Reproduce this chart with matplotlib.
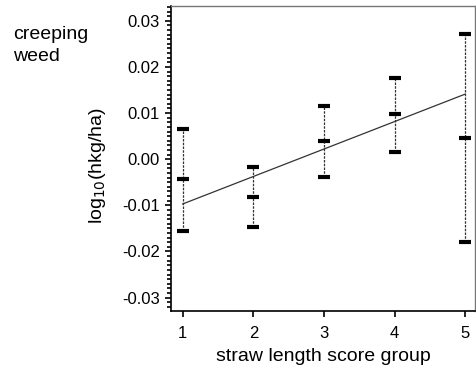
import matplotlib.pyplot as plt
from matplotlib.ticker import MultipleLocator

plt.rcParams['font.family'] = ['Liberation Sans', 'DejaVu Sans']

groups = [1, 2, 3, 4, 5]
upper = [0.0066, -0.0016, 0.0116, 0.0177, 0.0271]
mean = [-0.0044, -0.0081, 0.0040, 0.0097, 0.0045]
lower = [-0.0155, -0.0147, -0.0038, 0.0016, -0.0179]
fit_x = [1, 5]
fit_y = [-0.0097, 0.0141]


def main():
    fig = plt.figure(figsize=(4.76, 3.68), dpi=100)
    ax = fig.add_axes([171 / 476, 57 / 368, 304 / 476, 305 / 368])

    ax.vlines(groups, lower, upper, colors='#333333', linestyles=(0, (2, 1)), linewidth=0.9)
    ax.plot(fit_x, fit_y, color='#333333', linewidth=0.9)
    for vals in (upper, mean, lower):
        ax.plot(groups, vals, linestyle='none', marker='_', markersize=8,
                markeredgewidth=3, color='black')

    ax.set_xlim(0.834, 5.14)
    ax.set_ylim(-0.0329, 0.0332)
    ax.set_xticks(groups)
    ax.yaxis.set_major_locator(MultipleLocator(0.01))
    ax.yaxis.set_minor_locator(MultipleLocator(0.001))
    ax.set_yticklabels(['%.2f' % t for t in ax.get_yticks()])
    ax.tick_params(axis='both', which='major', direction='out', length=4, width=1.2,
                   labelsize=12, pad=4)
    ax.tick_params(axis='x', which='major', pad=7)
    ax.tick_params(axis='y', which='minor', direction='out', length=3, width=1.2)

    for side in ('top', 'right'):
        ax.spines[side].set_color('#777777')
        ax.spines[side].set_linewidth(1)
    for side in ('left', 'bottom'):
        ax.spines[side].set_linewidth(1.2)

    ax.set_xlabel('straw length score group', fontsize=14)
    ax.xaxis.set_label_coords(0.5, -0.121)
    ax.set_ylabel('log$_{10}$(hkg/ha)', fontsize=14)
    ax.yaxis.set_label_coords(-0.207, 0.475)
    fig.text(13 / 476, 1 - 26 / 368, 'creeping\nweed', fontsize=14, va='top', ha='left',
             linespacing=1.4)

    fig.savefig('out.png', dpi=100)


if __name__ == "__main__":
    main()
